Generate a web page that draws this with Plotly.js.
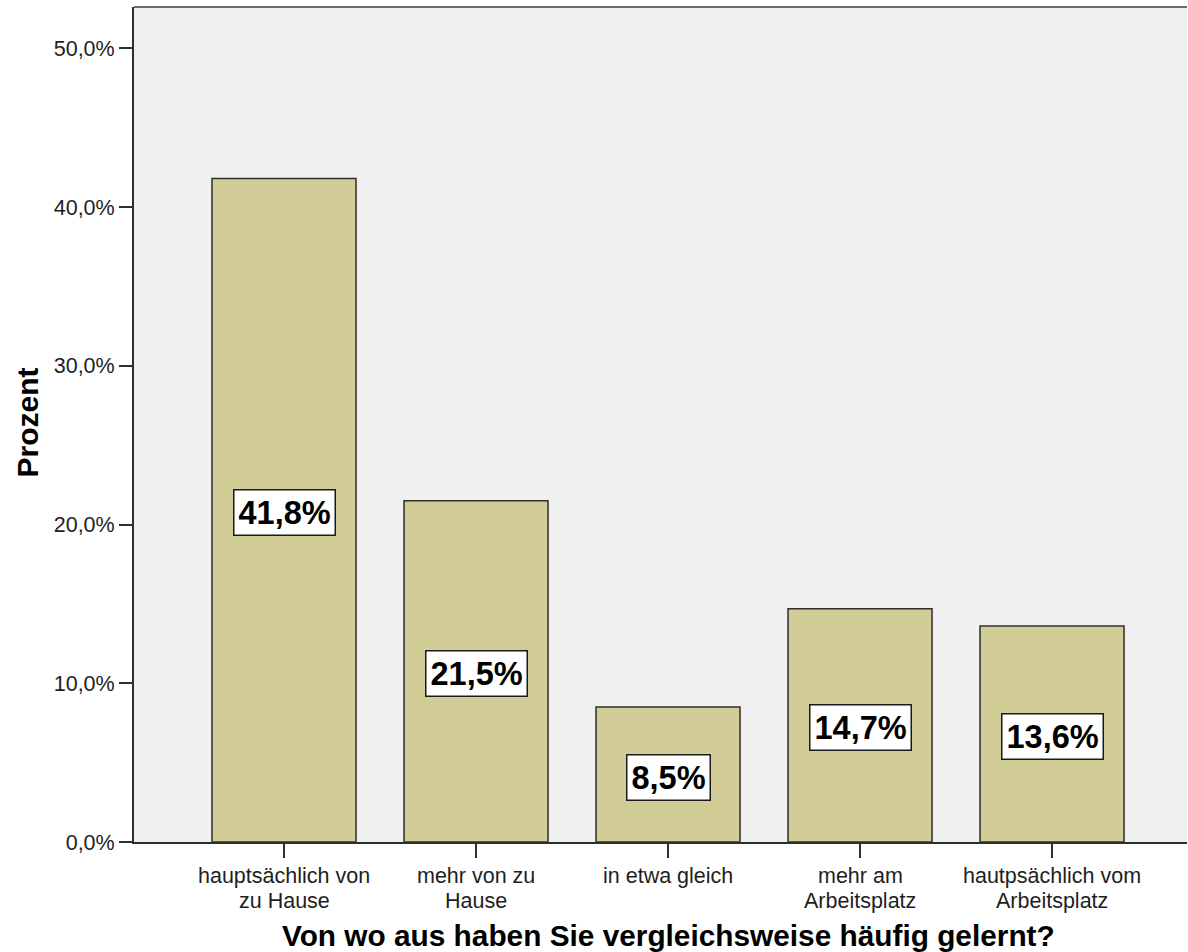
<!DOCTYPE html>
<html>
<head>
<meta charset="utf-8">
<script src="https://cdn.plot.ly/plotly-3.0.1.min.js"></script>
<style>
  html, body { margin: 0; padding: 0; background: #ffffff; }
  #chart { width: 1188px; height: 952px; }
</style>
</head>
<body>
<div id="chart"></div>
<script>
// Answer categories (each entry is one label, split into its printed lines)
const categoryLines = [
  ['hauptsächlich von', 'zu Hause'],
  ['mehr von zu', 'Hause'],
  ['in etwa gleich'],
  ['mehr am', 'Arbeitsplatz'],
  ['hautpsächlich vom', 'Arbeitsplatz']
];
// Share of respondents per category, in percent
const percentValues = [41.8, 21.5, 8.5, 14.7, 13.6];
// Y axis ticks
const yTickValues = [0, 10, 20, 30, 40, 50];

const xTitle = 'Von wo aus haben Sie vergleichsweise häufig gelernt?';
const yTitle = 'Prozent';

const FONT = 'Liberation Sans, Arial, Helvetica, sans-serif';
const categoryKeys = categoryLines.map(lines => lines.join(' '));

function pct(v) {
  return v.toFixed(1).replace('.', ',') + '%';
}

const bars = {
  type: 'bar',
  x: categoryKeys,
  y: percentValues,
  width: 0.75,
  marker: { color: '#d2cd97', line: { color: '#2e2e2e', width: 1.5 } },
  hoverinfo: 'skip'
};

const annotations = [];

// value boxes centred half way up each bar
percentValues.forEach((v, i) => {
  annotations.push({
    xref: 'x', yref: 'y',
    x: categoryKeys[i], y: v / 2,
    text: pct(v),
    showarrow: false,
    font: { family: FONT, size: 32.5, color: '#000000', weight: 'bold' },
    bgcolor: '#ffffff',
    bordercolor: '#1a1a1a',
    borderwidth: 1.5,
    borderpad: 4,
    xanchor: 'center', yanchor: 'middle',
    yshift: -2.5
  });
});

// category labels under the axis, one annotation per printed line
categoryLines.forEach((lines, i) => {
  lines.forEach((line, j) => {
    annotations.push({
      xref: 'x', yref: 'paper',
      x: categoryKeys[i], y: 0,
      text: line,
      showarrow: false,
      font: { family: FONT, size: 21.5, color: '#1e1e1e' },
      borderpad: 0,
      borderwidth: 0,
      xanchor: 'center', yanchor: 'middle',
      yshift: -34 - j * 25
    });
  });
});

// x axis title, centred under the middle bar
annotations.push({
  xref: 'x', yref: 'paper',
  x: categoryKeys[2], y: 0,
  text: xTitle,
  showarrow: false,
  font: { family: FONT, size: 29.8, color: '#000000', weight: 'bold' },
  borderpad: 0,
  borderwidth: 0,
  xanchor: 'center', yanchor: 'middle',
  yshift: -93
});

// y axis title
annotations.push({
  xref: 'paper', yref: 'paper',
  x: 0, y: 0.5,
  text: yTitle,
  showarrow: false,
  textangle: -90,
  font: { family: FONT, size: 30, color: '#000000', weight: 'bold' },
  xanchor: 'center', yanchor: 'middle',
  xshift: -107, yshift: 2
});

const layout = {
  width: 1188,
  height: 952,
  margin: { l: 134, r: 1, t: 7, b: 110, pad: 0 },
  paper_bgcolor: '#ffffff',
  plot_bgcolor: '#f0f0f0',
  font: { family: FONT, color: '#1e1e1e' },
  showlegend: false,
  hovermode: false,
  xaxis: {
    type: 'category',
    range: [-0.78125, 4.703],
    showgrid: false,
    zeroline: false,
    showline: true,
    linecolor: '#2e2e2e',
    linewidth: 2,
    ticks: 'outside',
    ticklen: 14,
    tickwidth: 2,
    tickcolor: '#2e2e2e',
    showticklabels: false,
    fixedrange: true
  },
  yaxis: {
    range: [0, 52.6],
    tickmode: 'array',
    tickvals: yTickValues,
    ticktext: yTickValues.map(pct),
    showgrid: false,
    zeroline: false,
    showline: true,
    linecolor: '#2e2e2e',
    linewidth: 2,
    ticks: 'outside',
    ticklen: 13,
    tickwidth: 2,
    tickcolor: '#2e2e2e',
    tickfont: { family: FONT, size: 21.5, color: '#1e1e1e' },
    fixedrange: true
  },
  shapes: [{
    type: 'line', xref: 'paper', yref: 'paper',
    x0: 0, x1: 1, y0: 1, y1: 1,
    line: { color: '#6a6a6a', width: 2 }
  }],
  annotations: annotations
};

Plotly.newPlot('chart', [bars], layout, { displayModeBar: false, staticPlot: true });
</script>
</body>
</html>
